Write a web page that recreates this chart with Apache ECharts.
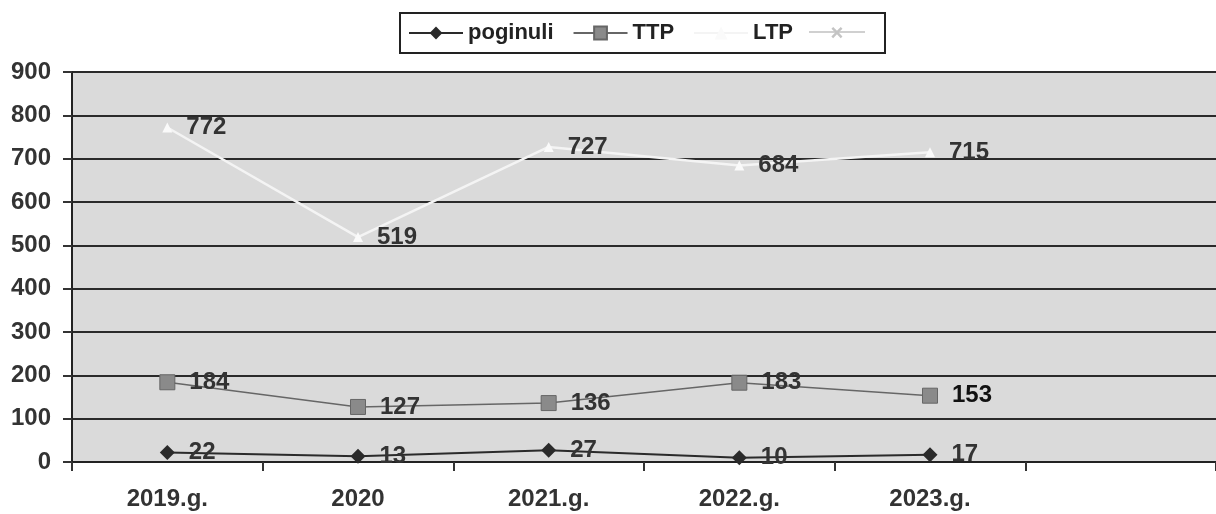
<!DOCTYPE html>
<html>
<head>
<meta charset="utf-8">
<script src="https://cdn.jsdelivr.net/npm/echarts@6/dist/echarts.min.js"></script>
<style>
  html, body { margin: 0; padding: 0; background: #fff; }
  #chart { width: 1216px; height: 514px; }
</style>
</head>
<body>
<div id="chart"></div>
<script>
var categories = ["2019.g.", "2020", "2021.g.", "2022.g.", "2023.g.", ""];
var poginuli = [22, 13, 27, 10, 17];
var ttp = [184, 127, 136, 183, 153];
var ltp = [772, 519, 727, 684, 715];
var yTicks = [0, 100, 200, 300, 400, 500, 600, 700, 800, 900];

var font = "'Liberation Sans', Arial, sans-serif";

var chart = echarts.init(document.getElementById("chart"));

// data labels to the right of each point
function rightLabel(color) {
  return {
    show: true,
    position: "right",
    distance: 14,
    color: color,
    fontFamily: font,
    fontWeight: "bold",
    fontSize: 24
  };
}

var option = {
  backgroundColor: "#fff",
  animation: false,
  legend: {
    data: ["poginuli", "TTP", "LTP"],
    left: 400,
    top: 13,
    padding: [9, 92, 9, 8],
    itemGap: 19,
    itemWidth: 54,
    itemHeight: 16,
    borderColor: "#222",
    borderWidth: 2,
    textStyle: {
      fontFamily: font,
      fontWeight: "bold",
      fontSize: 22,
      color: "#222"
    }
  },
  graphic: [
    {
      type: "line",
      shape: { x1: 809, y1: 32, x2: 865, y2: 32 },
      style: { stroke: "#d0d0d0", lineWidth: 2 }
    },
    {
      type: "text",
      x: 837,
      y: 34,
      style: {
        text: "×",
        fill: "#c4c4c4",
        font: "bold 22px " + font,
        align: "center",
        verticalAlign: "middle"
      }
    }
  ],
  grid: {
    left: 72,
    right: -11,
    top: 72,
    bottom: 52,
    show: true,
    backgroundColor: "#dadada",
    borderWidth: 0
  },
  xAxis: {
    type: "category",
    data: categories,
    boundaryGap: true,
    axisLine: { lineStyle: { color: "#222", width: 2 } },
    axisTick: { show: true, length: 9, lineStyle: { color: "#333", width: 2 } },
    axisLabel: {
      margin: 25,
      color: "#333",
      fontFamily: font,
      fontWeight: "bold",
      fontSize: 24
    },
    splitLine: { show: false }
  },
  yAxis: {
    type: "value",
    min: yTicks[0],
    max: yTicks[yTicks.length - 1],
    interval: 100,
    axisLine: { show: true, lineStyle: { color: "#222", width: 2 } },
    axisTick: { show: true, length: 9, lineStyle: { color: "#333", width: 2 } },
    axisLabel: {
      margin: 21,
      color: "#333",
      fontFamily: font,
      fontWeight: "bold",
      fontSize: 24
    },
    splitLine: { show: true, lineStyle: { color: "#2a2a2a", width: 2 } }
  },
  series: [
    {
      name: "poginuli",
      type: "line",
      data: poginuli,
      symbol: "diamond",
      symbolSize: 15,
      z: 5,
      itemStyle: { color: "#2a2a2a" },
      lineStyle: { color: "#2a2a2a", width: 2 },
      label: rightLabel("#333")
    },
    {
      name: "TTP",
      type: "line",
      data: ttp.map(function(v, i) {
        return i === ttp.length - 1 ? { value: v, label: { color: "#111" } } : v;
      }),
      symbol: "rect",
      symbolSize: 15,
      z: 4,
      itemStyle: { color: "#8a8a8a", borderColor: "#666", borderWidth: 1 },
      lineStyle: { color: "#666", width: 1.5 },
      label: rightLabel("#333")
    },
    {
      name: "LTP",
      type: "line",
      data: ltp,
      symbol: "triangle",
      symbolSize: 10,
      z: 3,
      itemStyle: { color: "#fafafa" },
      lineStyle: { color: "#f4f4f4", width: 2.5 },
      label: rightLabel("#333")
    }
  ]
};

chart.setOption(option);
window.addEventListener("resize", chart.resize);
</script>
</body>
</html>
